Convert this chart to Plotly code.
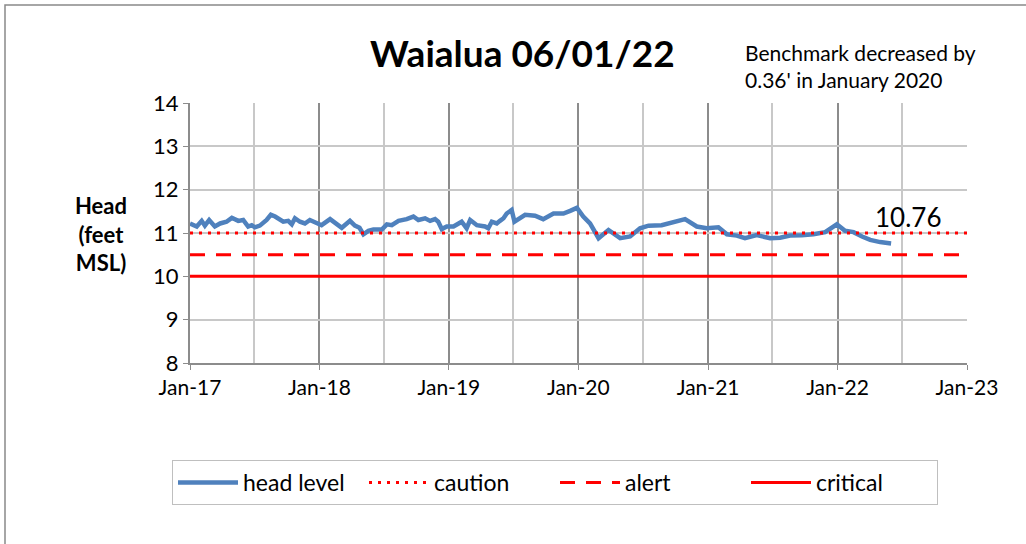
import plotly.graph_objects as go

# ---- data ----
dates = [
    "2017-01-01", "2017-01-20", "2017-02-03", "2017-02-12", "2017-02-24", "2017-03-12",
    "2017-03-27", "2017-04-14", "2017-04-29", "2017-05-17", "2017-05-31", "2017-06-14",
    "2017-06-24", "2017-07-03", "2017-07-17", "2017-08-05", "2017-08-17", "2017-08-29",
    "2017-09-21", "2017-10-05", "2017-10-15", "2017-10-24", "2017-11-07", "2017-11-21",
    "2017-12-05", "2017-12-24", "2018-01-07", "2018-01-31", "2018-02-19", "2018-03-05",
    "2018-03-28", "2018-04-11", "2018-04-24", "2018-05-05", "2018-05-19", "2018-06-02",
    "2018-06-26", "2018-07-10", "2018-07-24", "2018-08-12", "2018-09-04", "2018-09-23",
    "2018-10-07", "2018-10-26", "2018-11-09", "2018-11-23", "2018-12-02", "2018-12-12",
    "2018-12-26", "2019-01-14", "2019-02-06", "2019-02-20", "2019-03-02", "2019-03-21",
    "2019-04-13", "2019-04-22", "2019-05-02", "2019-05-16", "2019-05-25", "2019-06-04",
    "2019-06-13", "2019-06-27", "2019-07-05", "2019-07-21", "2019-08-04", "2019-09-01",
    "2019-09-24", "2019-10-23", "2019-11-20", "2019-12-09", "2019-12-28", "2020-01-15",
    "2020-02-03", "2020-02-27", "2020-03-26", "2020-04-28", "2020-05-26", "2020-06-23",
    "2020-07-17", "2020-08-23", "2020-09-25", "2020-10-28", "2020-11-30", "2020-12-28",
    "2021-01-30", "2021-02-23", "2021-03-23", "2021-04-15", "2021-05-18", "2021-06-01",
    "2021-06-25", "2021-07-23", "2021-08-20", "2021-09-22", "2021-10-25", "2021-11-27",
    "2021-12-30", "2022-01-22", "2022-02-15", "2022-03-11", "2022-04-03", "2022-05-01",
    "2022-06-01",
]
head_level = [
    11.22, 11.15, 11.28, 11.17, 11.30, 11.15,
    11.22, 11.26, 11.35, 11.28, 11.30, 11.15,
    11.18, 11.13, 11.17, 11.30, 11.42, 11.38,
    11.26, 11.28, 11.20, 11.34, 11.26, 11.22,
    11.30, 11.22, 11.18, 11.32, 11.20, 11.12,
    11.28, 11.17, 11.12, 10.97, 11.05, 11.08,
    11.08, 11.20, 11.18, 11.28, 11.32, 11.38,
    11.30, 11.34, 11.28, 11.32, 11.26, 11.09,
    11.15, 11.15, 11.26, 11.11, 11.30, 11.18,
    11.15, 11.11, 11.26, 11.22, 11.28, 11.34,
    11.45, 11.53, 11.26, 11.34, 11.42, 11.40,
    11.32, 11.45, 11.45, 11.51, 11.58, 11.38,
    11.22, 10.88, 11.07, 10.88, 10.92, 11.11,
    11.17, 11.18, 11.26, 11.32, 11.15, 11.11,
    11.13, 10.97, 10.94, 10.88, 10.95, 10.92,
    10.88, 10.89, 10.94, 10.95, 10.97, 11.02,
    11.20, 11.05, 11.02, 10.92, 10.84, 10.79,
    10.76,
]
threshold_dates = ["2017-01-01", "2023-01-01"]
caution = [11.0, 11.0]
alert = [10.5, 10.5]
critical = [10.0, 10.0]

title_text = "Waialua 06/01/22"
note_text = "Benchmark decreased by<br>0.36' in January 2020"
y_title = "Head<br>(feet<br>MSL)"
last_label = "10.76"

FONT = "Lato"
BLUE = "#4f81bd"
RED = "#ff0000"

fig = go.Figure()
fig.add_trace(go.Scatter(x=dates, y=head_level, mode="lines", name="head level",
                         line=dict(color=BLUE, width=4.5)))
fig.add_trace(go.Scatter(x=threshold_dates, y=caution, mode="lines", name="caution",
                         line=dict(color=RED, width=3, dash="3px,6px")))
fig.add_trace(go.Scatter(x=threshold_dates, y=alert, mode="lines", name="alert",
                         line=dict(color=RED, width=3, dash="15px,11px")))
fig.add_trace(go.Scatter(x=threshold_dates, y=critical, mode="lines", name="critical",
                         line=dict(color=RED, width=3)))

fig.update_layout(
    width=1026, height=544,
    margin=dict(l=190, r=59, t=103, b=181, autoexpand=False),
    paper_bgcolor="white", plot_bgcolor="white",
    font=dict(family=FONT, size=20, color="black"),
    showlegend=True,
    legend=dict(orientation="h", xref="paper", yref="paper",
                x=(555 - 190) / 777, xanchor="center", y=(363 - 460) / 260, yanchor="top",
                bordercolor="#bfbfbf", borderwidth=1, font=dict(size=23),
                entrywidth=116, entrywidthmode="pixels", itemwidth=60),
    xaxis=dict(type="date", range=["2017-01-01", "2023-01-01"],
               dtick="M12", tick0="2017-01-01", tickformat="%b-%y",
               showgrid=True, gridcolor="#8c8c8c", gridwidth=2,
               showline=True, linecolor="#8c8c8c", linewidth=2,
               ticks="outside", ticklen=5, tickcolor="#8c8c8c",
               tickfont=dict(size=21),
               minor=dict(dtick="M6", tick0="2017-01-01", showgrid=True,
                          gridcolor="#c8c8c8", gridwidth=2),
               zeroline=False),
    yaxis=dict(range=[8, 14], dtick=1, showgrid=True, gridcolor="#c8c8c8", gridwidth=2,
               showline=True, linecolor="#8c8c8c", linewidth=2,
               ticks="outside", ticklen=5, tickcolor="#8c8c8c",
               tickfont=dict(size=22), zeroline=False),
)

fig.add_annotation(text="<b>" + title_text + "</b>", xref="paper", yref="paper",
                   x=(522 - 190) / 777, y=(363 - 52) / 260, xanchor="center", yanchor="middle",
                   showarrow=False, font=dict(size=37, family=FONT))
fig.add_annotation(text=note_text, xref="paper", yref="paper",
                   x=(743 - 190) / 777, y=(363 - 66) / 260, xanchor="left", yanchor="middle",
                   align="left", showarrow=False, font=dict(size=21, family=FONT))
fig.add_annotation(text="<b>" + y_title + "</b>", xref="paper", yref="paper",
                   x=(101 - 190) / 777, y=(363 - 234) / 260, xanchor="center", yanchor="middle",
                   align="center", showarrow=False, font=dict(size=22, family=FONT))
fig.add_annotation(text=last_label, x=dates[-1], y=head_level[-1], showarrow=False,
                   xanchor="center", yanchor="middle", xshift=17, yshift=26,
                   font=dict(size=26, family=FONT))

# outer chart-area border
fig.add_shape(type="rect", xref="paper", yref="paper",
              x0=(5 - 190) / 777, x1=(1030 - 190) / 777,
              y0=(363 - 548) / 260, y1=(363 - 5) / 260,
              line=dict(color="#898989", width=1.5), fillcolor="rgba(0,0,0,0)", layer="below")

fig.write_html("out.html", config={"displayModeBar": False},
               post_script="document.body.style.margin='0px';")
